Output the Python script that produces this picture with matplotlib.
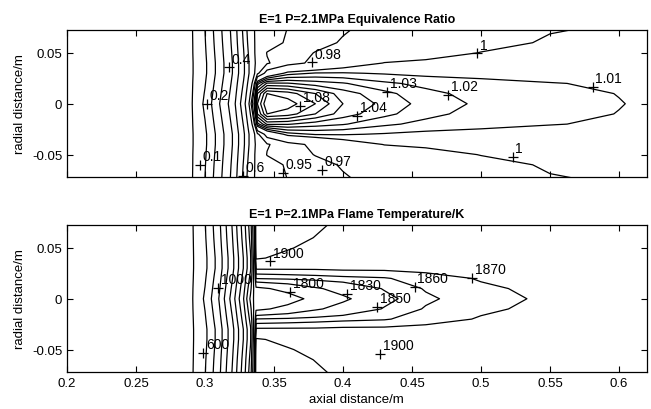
import numpy as np
import matplotlib
matplotlib.use("Agg")
import matplotlib.pyplot as plt

plt.rcParams['font.family'] = ['Liberation Sans', 'DejaVu Sans']

# radial positions (m, upper half; field mirrored about the axis)
radial_half = [0.0, 0.01, 0.02, 0.03, 0.04, 0.05, 0.06, 0.073]

# equivalence ratio: axial stations (m) and one row per radial position
phi_axial = [0.20, 0.29, 0.30, 0.31, 0.32, 0.328, 0.333, 0.338, 0.345, 0.36, 0.38,
             0.40, 0.43, 0.46, 0.50, 0.55, 0.60, 0.62]
phi_r000 = [0.0, 0.09, 0.22, 0.39, 0.55, 0.76, 0.94, 1.06, 1.09, 1.085, 1.07, 1.05, 1.037, 1.026, 1.018, 1.014, 1.0103, 1.009]
phi_r010 = [0.0, 0.089, 0.207, 0.373, 0.534, 0.734, 0.904, 1.05, 1.08, 1.075, 1.06, 1.045, 1.033, 1.023, 1.016, 1.0125, 1.0098, 1.009]
phi_r020 = [0.0, 0.088, 0.194, 0.356, 0.518, 0.708, 0.868, 1.015, 1.042, 1.041, 1.035, 1.031, 1.022, 1.017, 1.0135, 1.0105, 1.0085, 1.008]
phi_r030 = [0.0, 0.087, 0.181, 0.339, 0.502, 0.682, 0.832, 0.945, 0.98, 1.005, 1.011, 1.011, 1.009, 1.007, 1.006, 1.005, 1.004, 1.004]
phi_r040 = [0.0, 0.087, 0.181, 0.339, 0.502, 0.682, 0.832, 0.93, 0.948, 0.962, 0.975, 0.99, 1.0005, 1.002, 1.003, 1.003, 1.003, 1.003]
phi_r050 = [0.0, 0.088, 0.188, 0.348, 0.51, 0.695, 0.85, 0.93, 0.951, 0.958, 0.971, 0.978, 0.99, 0.996, 1.0003, 1.002, 1.003, 1.003]
phi_r060 = [0.0, 0.088, 0.194, 0.356, 0.518, 0.708, 0.868, 0.92, 0.94, 0.953, 0.963, 0.972, 0.983, 0.99, 0.997, 1.001, 1.002, 1.002]
phi_r073 = [0.0, 0.089, 0.20, 0.365, 0.526, 0.721, 0.886, 0.91, 0.93, 0.951, 0.96, 0.968, 0.978, 0.986, 0.993, 0.9995, 1.001, 1.001]

# flame temperature (K): axial stations (m) and one row per radial position
T_axial = [0.20, 0.29, 0.30, 0.31, 0.32, 0.328, 0.333, 0.337, 0.36, 0.38,
           0.40, 0.43, 0.46, 0.50, 0.55, 0.60, 0.62]
T_r000 = [560, 585, 715, 900, 1150, 1400, 1620, 1768, 1786, 1810, 1826, 1846, 1858, 1866, 1872, 1875, 1875]
T_r010 = [560, 585, 702, 881, 1125, 1369, 1576, 1792, 1810, 1827, 1838, 1851, 1861, 1868, 1873, 1876, 1876]
T_r020 = [560, 584, 689, 863, 1100, 1338, 1532, 1851, 1853, 1855, 1857, 1859, 1865, 1871, 1875, 1877, 1877]
T_r030 = [560, 584, 676, 844, 1075, 1306, 1488, 1872, 1872, 1872, 1873, 1873, 1874, 1876, 1877, 1878, 1878]
T_r040 = [560, 584, 676, 844, 1075, 1306, 1488, 1903, 1893, 1888, 1884, 1882, 1881, 1880, 1880, 1880, 1880]
T_r050 = [560, 584, 682, 854, 1088, 1322, 1510, 1915, 1902, 1893, 1888, 1885, 1883, 1882, 1881, 1881, 1881]
T_r060 = [560, 584, 689, 863, 1100, 1338, 1532, 1920, 1912, 1899, 1891, 1887, 1885, 1883, 1882, 1882, 1882]
T_r073 = [560, 585, 695, 872, 1112, 1353, 1554, 1922, 1918, 1906, 1893, 1888, 1886, 1884, 1883, 1883, 1883]

phi_levels = [0.1, 0.2, 0.3, 0.4, 0.5, 0.6, 0.7, 0.8, 0.9, 0.95, 0.97, 1.0,
              1.01, 1.02, 1.03, 1.04, 1.05, 1.06, 1.07, 1.08]
T_levels = [600, 700, 800, 900, 1000, 1100, 1200, 1300, 1400, 1500, 1600, 1700,
            1800, 1830, 1850, 1860, 1870, 1900]

# contour labels: text, axial, radial
phi_labels = [("0.4", 0.3174, 0.036), ("0.98", 0.3775, 0.041), ("1", 0.497, 0.050),
              ("1.03", 0.432, 0.0118), ("1.02", 0.476, 0.0088), ("1.01", 0.581, 0.0167),
              ("0.2", 0.3014, 0.0), ("1.08", 0.369, -0.002), ("1.04", 0.410, -0.0118),
              ("0.1", 0.2964, -0.060), ("0.6", 0.3275, -0.0706), ("0.95", 0.3565, -0.0676),
              ("0.97", 0.3848, -0.0647), ("1", 0.523, -0.052)]
T_labels = [("1900", 0.347, 0.037), ("1000", 0.3094, 0.011), ("1800", 0.3616, 0.0069),
            ("1830", 0.403, 0.005), ("1850", 0.4246, -0.0078), ("1860", 0.452, 0.0118),
            ("1870", 0.4935, 0.0206), ("600", 0.2986, -0.053), ("1900", 0.4268, -0.054)]

titles = ["E=1 P=2.1MPa Equivalence Ratio", "E=1 P=2.1MPa Flame Temperature/K"]

def full_field(rows):
    half = np.array(rows, dtype=float)
    return np.vstack([half[:0:-1], half])

r_half = np.array(radial_half)
r_full = np.concatenate([-r_half[:0:-1], r_half])

phi_field = full_field([phi_r000, phi_r010, phi_r020, phi_r030, phi_r040, phi_r050, phi_r060, phi_r073])
T_field = full_field([T_r000, T_r010, T_r020, T_r030, T_r040, T_r050, T_r060, T_r073])

fig = plt.figure(figsize=(6.51, 4.10), dpi=100)
ax1 = fig.add_axes([67/651, 1-178/410, (646.5-67)/651, (178-31)/410])
ax2 = fig.add_axes([67/651, 1-373/410, (646.5-67)/651, (373-226)/410])

for ax, xs, field, levels, labels, title in [
        (ax1, phi_axial, phi_field, phi_levels, phi_labels, titles[0]),
        (ax2, T_axial, T_field, T_levels, T_labels, titles[1])]:
    ax.contour(np.array(xs), r_full, field, levels=levels, colors='k', linewidths=0.9)
    for txt, xx, rr in labels:
        ax.plot(xx, rr, marker='+', ms=7, mew=0.9, color='k')
        ax.annotate(txt, (xx, rr), xytext=(2, 1), textcoords='offset points',
                    ha='left', va='bottom', fontsize=10, color='k')
    ax.set_xlim(0.2, 0.62)
    ax.set_ylim(-0.072, 0.0725)
    ax.set_xticks([0.2, 0.25, 0.3, 0.35, 0.4, 0.45, 0.5, 0.55, 0.6])
    ax.set_yticks([-0.05, 0, 0.05])
    ax.set_yticklabels(["-0.05", "0", "0.05"])
    ax.tick_params(direction='in', top=True, right=True, length=4, width=0.8, labelsize=9.5)
    ax.set_ylabel("radial distance/m", fontsize=9.5)
    ax.set_title(title, fontsize=9, fontweight='bold', pad=6)
    for s in ax.spines.values():
        s.set_linewidth(0.9)

ax1.set_xticklabels([])
ax2.set_xticklabels(["0.2", "0.25", "0.3", "0.35", "0.4", "0.45", "0.5", "0.55", "0.6"])
ax2.set_xlabel("axial distance/m", fontsize=9.5, labelpad=3)

fig.savefig("out.png", dpi=100)
